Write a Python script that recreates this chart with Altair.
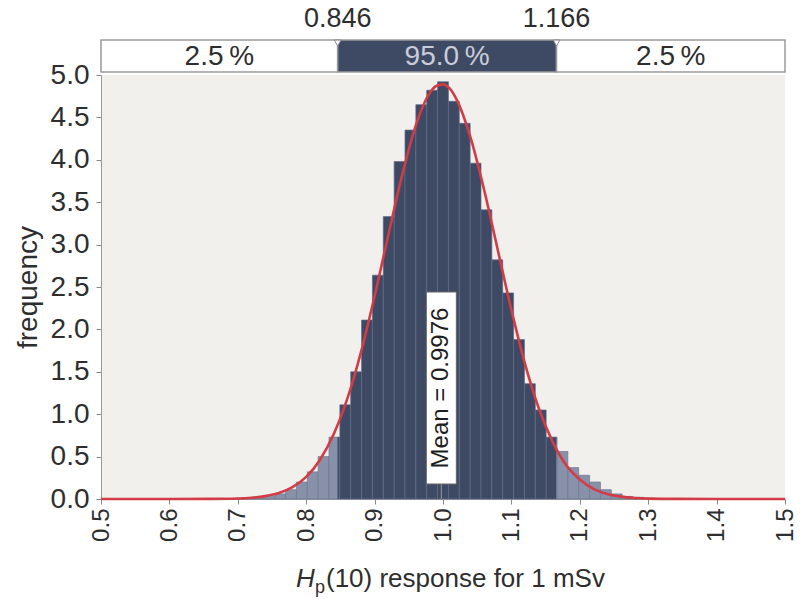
import altair as alt
import pandas as pd

# ---------------- data ----------------
x_min, x_max, n_bins = 0.5, 1.5, 63
freq = ([0] * 12 +
        [0.005, 0.01, 0.02, 0.03, 0.06, 0.11, 0.20, 0.32, 0.50, 0.73,
         1.11, 1.50, 2.11, 2.64, 3.33, 3.98, 4.35, 4.65, 4.82, 4.92,
         4.69, 4.43, 3.96, 3.41, 2.82, 2.43, 1.88, 1.36, 1.05, 0.73,
         0.56, 0.37, 0.28, 0.20, 0.11, 0.06, 0.03, 0.02, 0.01, 0.005] +
        [0] * 11)

curve_x = [0.50, 0.60, 0.66, 0.70, 0.72, 0.74, 0.76, 0.78, 0.80, 0.82, 0.84,
           0.86, 0.88, 0.90, 0.92, 0.94, 0.96, 0.98, 0.99, 1.00, 1.01, 1.02,
           1.04, 1.06, 1.08, 1.10, 1.12, 1.14, 1.16, 1.18, 1.20, 1.22, 1.24,
           1.26, 1.28, 1.30, 1.34, 1.40, 1.50]
curve_y = [0.0, 0.0, 0.001, 0.006, 0.015, 0.034, 0.070, 0.140, 0.26, 0.46, 0.76,
           1.18, 1.73, 2.39, 3.11, 3.81, 4.40, 4.78, 4.87, 4.89, 4.84, 4.71,
           4.27, 3.65, 2.94, 2.23, 1.59, 1.07, 0.68, 0.40, 0.23, 0.12, 0.06,
           0.028, 0.012, 0.005, 0.001, 0.0, 0.0]

p_low, p_high = 0.846, 1.166
pct_labels = ["0.846", "1.166"]
seg_labels = ["2.5\u2009%", "95.0\u2009%", "2.5\u2009%"]
mean_val = 0.9976
mean_label = "Mean = 0.9976"
x_ticks = [0.5, 0.6, 0.7, 0.8, 0.9, 1.0, 1.1, 1.2, 1.3, 1.4, 1.5]
y_ticks = [0.0, 0.5, 1.0, 1.5, 2.0, 2.5, 3.0, 3.5, 4.0, 4.5, 5.0]

# ---------------- styling ----------------
FONT = "Liberation Sans"
DARK = "#3e4a64"
DARK_STROKE = "#5f6b86"
HATCH = "#8891a9"
HATCH_STROKE = "#6c7791"
RED = "#d23c46"
TXT = "#2e2e2e"
PLOT_W, PLOT_H = 684, 424

# ---------------- tables ----------------
w = (x_max - x_min) / n_bins
rows = []
for k, f in enumerate(freq):
    if f <= 0:
        continue
    a = x_min + k * w
    b = a + w
    cuts = sorted(set([a, b] + [c for c in (p_low, p_high) if a < c < b]))
    for s, e in zip(cuts[:-1], cuts[1:]):
        mid = (s + e) / 2
        tail = mid < p_low or mid > p_high
        rows.append(dict(x0=s, x1=e, f=f, y0=0.0,
                         fill=HATCH if tail else DARK,
                         stroke=HATCH_STROKE if tail else DARK_STROKE))
bars_df = pd.DataFrame(rows)
curve_df = pd.DataFrame({"x": curve_x, "y": curve_y})

seg_df = pd.DataFrame({
    "x0": [x_min, p_low, p_high],
    "x1": [p_low, p_high, x_max],
    "label": seg_labels,
    "fill": ["#ffffff", DARK, "#ffffff"],
    "tcol": [TXT, "#c9cdd8", TXT],
})
seg_df["xm"] = (seg_df["x0"] + seg_df["x1"]) / 2
pct_df = pd.DataFrame({"x": [p_low, p_high], "label": pct_labels})
mean_df = pd.DataFrame({"x": [mean_val], "label": [mean_label], "y0": [0.0]})

xs = alt.Scale(domain=[x_min, x_max], nice=False, zero=False)
ys = alt.Scale(domain=[0, 5], nice=False)

x_axis = alt.Axis(values=x_ticks, format=".1f", labelAngle=270, labelFontSize=24,
                  labelFont=FONT, labelColor=TXT, tickSize=5, tickColor="#888888",
                  domainColor="#9a9a9a", grid=False, labelPadding=4, title=None,
                  labelFlush=False)
y_axis = alt.Axis(values=y_ticks, format=".1f", labelFontSize=28, labelFont=FONT,
                  labelColor=TXT, tickSize=5, tickColor="#888888",
                  domainColor="#9a9a9a", grid=False, labelPadding=7,
                  title="frequency", titleFont=FONT, titleFontSize=28,
                  titleFontWeight="normal", titleColor=TXT, titlePadding=8,
                  labelFlush=False)

bars = alt.Chart(bars_df).mark_rect(strokeWidth=0.7).encode(
    x=alt.X("x0:Q", scale=xs, axis=x_axis),
    x2="x1:Q",
    y=alt.Y("f:Q", scale=ys, axis=y_axis),
    y2="y0:Q",
    fill=alt.Fill("fill:N", scale=None),
    stroke=alt.Stroke("stroke:N", scale=None),
)

curve = alt.Chart(curve_df).mark_line(color=RED, strokeWidth=2.6,
                                      interpolate="monotone").encode(
    x=alt.X("x:Q", scale=xs), y=alt.Y("y:Q", scale=ys))

mean_rule = alt.Chart(mean_df).mark_rule(color="#9a9a9a", strokeWidth=1).encode(
    x=alt.X("x:Q", scale=xs), y=alt.value(409), y2=alt.value(PLOT_H))
mean_box = alt.Chart(mean_df).mark_rect(fill="white", stroke="#666666",
                                        strokeWidth=1, xOffset=-15, x2Offset=15).encode(
    x=alt.X("x:Q", scale=xs), x2="x:Q", y=alt.value(217), y2=alt.value(409))
mean_text = alt.Chart(mean_df).mark_text(angle=270, font=FONT, fontSize=24,
                                         color="#1e1e1e", baseline="middle",
                                         align="center").encode(
    x=alt.X("x:Q", scale=xs), y=alt.value(313), text="label:N")

seg_rect = alt.Chart(seg_df).mark_rect(stroke="#9a9a9a", strokeWidth=1.5).encode(
    x=alt.X("x0:Q", scale=xs), x2="x1:Q", y=alt.value(-35), y2=alt.value(-3),
    fill=alt.Fill("fill:N", scale=None))
seg_text = alt.Chart(seg_df).mark_text(font=FONT, fontSize=28, baseline="middle").encode(
    x=alt.X("xm:Q", scale=xs), y=alt.value(-18), text="label:N",
    color=alt.Color("tcol:N", scale=None))
pct_tri = alt.Chart(pct_df).mark_point(shape="triangle-down", filled=True,
                                       fill="white", stroke="#888888",
                                       strokeWidth=1, size=45, opacity=1).encode(
    x=alt.X("x:Q", scale=xs), y=alt.value(-32))
pct_text = alt.Chart(pct_df).mark_text(font=FONT, fontSize=27, color=TXT,
                                       baseline="middle").encode(
    x=alt.X("x:Q", scale=xs), y=alt.value(-56), text="label:N")

# x-axis title with italic H and subscript p
t1 = alt.Chart(pd.DataFrame({"t": ["H"]})).mark_text(
    font=FONT, fontSize=26, fontStyle="italic", color=TXT, align="left",
    baseline="alphabetic").encode(text="t:N", x=alt.value(195), y=alt.value(512))
t2 = alt.Chart(pd.DataFrame({"t": ["p"]})).mark_text(
    font=FONT, fontSize=18, color=TXT, align="left",
    baseline="alphabetic").encode(text="t:N", x=alt.value(214), y=alt.value(518))
t3 = alt.Chart(pd.DataFrame({"t": ["(10) response for 1 mSv"]})).mark_text(
    font=FONT, fontSize=26, color=TXT, align="left",
    baseline="alphabetic").encode(text="t:N", x=alt.value(225), y=alt.value(512))

chart = alt.layer(
    bars, curve, mean_rule, mean_box, mean_text,
    seg_rect, seg_text, pct_tri, pct_text, t1, t2, t3
).properties(
    width=PLOT_W, height=PLOT_H,
    autosize=alt.AutoSizeParams(type="none"),
    padding={"left": 101, "top": 75, "right": 800 - 101 - PLOT_W, "bottom": 100},
    background="white",
).configure_view(fill="#f2f0ec", stroke=None)

chart.save("out.html", embed_options={"renderer": "svg", "actions": False})
